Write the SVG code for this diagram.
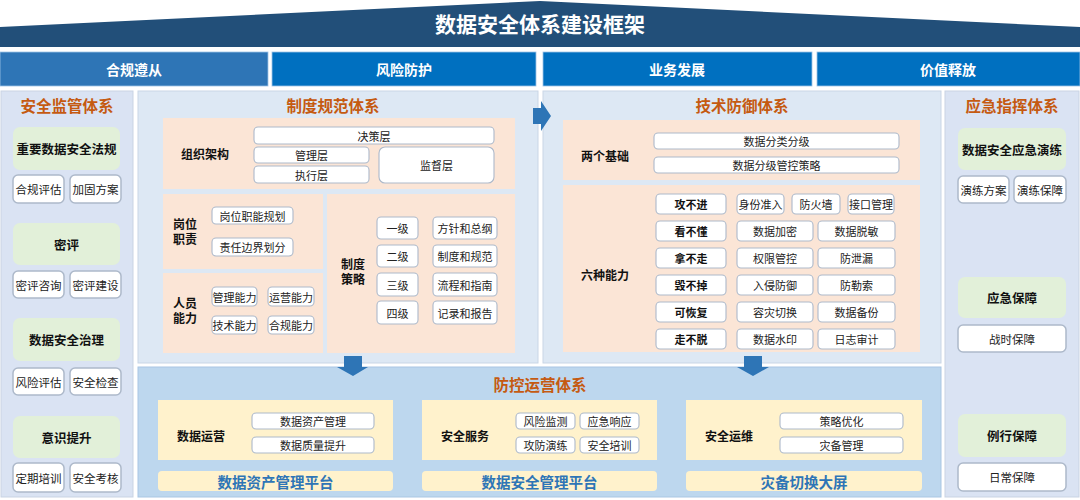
<svg xmlns="http://www.w3.org/2000/svg" width="1080" height="500" viewBox="0 0 1080 500">
<style>
text{font-family:"Noto Sans CJK SC","Noto Sans",sans-serif;text-anchor:middle;dominant-baseline:central}
.hd{fill:#fff;font-weight:700;font-size:14px}
.pt{fill:#c55a11;font-weight:700;font-size:15.5px}
.gb{fill:#e2f0d9}
.gl{font-weight:700;font-size:12.5px;fill:#111}
.wb{fill:#fff;stroke:#adb9ca;stroke-width:1.5}
.sb{fill:#fff;stroke:#adb9ca;stroke-width:1.1}
.t11{font-size:11px;fill:#222}
.t12{font-size:11.5px;fill:#222}
.bl{font-weight:700;font-size:12px;fill:#111}
.pe{fill:#fbe5d6}
.cr{fill:#fff2cc}
.pf{fill:#2e75b6;font-weight:700;font-size:14.5px}
.ar{fill:#2e75b6}
</style>
<g id="banner">
<polygon points="0,27 540,1 1080,27 1080,47 0,47" fill="#224f79"/>
<text x="540" y="23" style="fill:#fff;font-weight:700;font-size:21px">数据安全体系建设框架</text>
</g>
<g id="headers">
<rect x="0" y="52" width="268" height="34" fill="#2e75b6" stroke="#9dc3e6" stroke-width="0.8"/>
<text class="hd" x="134" y="69">合规遵从</text>
<rect x="272" y="52" width="264" height="34" fill="#0070c0" stroke="#9dc3e6" stroke-width="0.8"/>
<text class="hd" x="404" y="69">风险防护</text>
<rect x="543" y="52" width="269" height="34" fill="#0070c0" stroke="#9dc3e6" stroke-width="0.8"/>
<text class="hd" x="677" y="69">业务发展</text>
<rect x="817" y="52" width="263" height="34" fill="#0070c0" stroke="#9dc3e6" stroke-width="0.8"/>
<text class="hd" x="948" y="69">价值释放</text>
</g>
<g id="supervision">
<rect x="1" y="91" width="132" height="406" fill="#dae3f3" stroke="#c9d3e3" stroke-width="1"/>
<text class="pt" x="67" y="105">安全监管体系</text>
<rect class="gb" x="13" y="127" width="107" height="43" rx="7"/>
<text class="gl" x="66.5" y="148.5">重要数据安全法规</text>
<rect class="wb" x="13" y="175" width="51" height="28" rx="5"/><text class="t12" x="38.5" y="189">合规评估</text>
<rect class="wb" x="70" y="175" width="51" height="28" rx="5"/><text class="t12" x="95.5" y="189">加固方案</text>
<rect class="gb" x="13" y="223" width="107" height="42" rx="7"/>
<text class="gl" x="66.5" y="244">密评</text>
<rect class="wb" x="13" y="271" width="51" height="27" rx="5"/><text class="t12" x="38.5" y="284.5">密评咨询</text>
<rect class="wb" x="70" y="271" width="51" height="27" rx="5"/><text class="t12" x="95.5" y="284.5">密评建设</text>
<rect class="gb" x="13" y="318" width="107" height="43" rx="7"/>
<text class="gl" x="66.5" y="339.5">数据安全治理</text>
<rect class="wb" x="13" y="368" width="51" height="27" rx="5"/><text class="t12" x="38.5" y="381.5">风险评估</text>
<rect class="wb" x="70" y="368" width="51" height="27" rx="5"/><text class="t12" x="95.5" y="381.5">安全检查</text>
<rect class="gb" x="13" y="416" width="107" height="42" rx="7"/>
<text class="gl" x="66.5" y="437">意识提升</text>
<rect class="wb" x="13" y="463" width="51" height="29" rx="5"/><text class="t12" x="38.5" y="477.5">定期培训</text>
<rect class="wb" x="70" y="463" width="51" height="29" rx="5"/><text class="t12" x="95.5" y="477.5">安全考核</text>
</g>
<g id="policy">
<rect x="138" y="91" width="400" height="272" fill="#dde8f4" stroke="#c9d6e6" stroke-width="1"/>
<text class="pt" x="333" y="105">制度规范体系</text>
<rect class="pe" x="163" y="118" width="352" height="71"/>
<text class="bl" x="205" y="153">组织架构</text>
<rect class="sb" x="254" y="127" width="240" height="17" rx="4"/><text class="t11" x="374" y="135.5">决策层</text>
<rect class="sb" x="254" y="147" width="115" height="16" rx="4"/><text class="t11" x="311.5" y="155">管理层</text>
<rect class="sb" x="254" y="166" width="115" height="17" rx="4"/><text class="t11" x="311.5" y="174.5">执行层</text>
<rect class="sb" x="379" y="147" width="115" height="36" rx="6"/><text class="t11" x="436.5" y="165">监督层</text>
<rect class="pe" x="163" y="194" width="160" height="75"/>
<text class="bl" x="185" y="223">岗位</text><text class="bl" x="185" y="238">职责</text>
<rect class="sb" x="212" y="207" width="81" height="17" rx="4"/><text class="t11" x="252.5" y="215.5">岗位职能规划</text>
<rect class="sb" x="212" y="238" width="81" height="18" rx="4"/><text class="t11" x="252.5" y="247">责任边界划分</text>
<rect class="pe" x="163" y="273" width="160" height="80"/>
<text class="bl" x="185" y="302">人员</text><text class="bl" x="185" y="317">能力</text>
<rect class="sb" x="212" y="287" width="45" height="19" rx="4"/><text class="t11" x="234.5" y="296.5">管理能力</text>
<rect class="sb" x="268" y="287" width="46" height="19" rx="4"/><text class="t11" x="291" y="296.5">运营能力</text>
<rect class="sb" x="212" y="316" width="45" height="18" rx="4"/><text class="t11" x="234.5" y="325">技术能力</text>
<rect class="sb" x="268" y="316" width="46" height="18" rx="4"/><text class="t11" x="291" y="325">合规能力</text>
<rect class="pe" x="327" y="194" width="188" height="159"/>
<text class="bl" x="353" y="263">制度</text><text class="bl" x="353" y="278">策略</text>
<rect class="sb" x="377" y="217" width="41" height="22" rx="4"/><text class="t11" x="397.5" y="228">一级</text>
<rect class="sb" x="377" y="245" width="41" height="22" rx="4"/><text class="t11" x="397.5" y="256">二级</text>
<rect class="sb" x="377" y="273" width="41" height="23" rx="4"/><text class="t11" x="397.5" y="284.5">三级</text>
<rect class="sb" x="377" y="301" width="41" height="23" rx="4"/><text class="t11" x="397.5" y="312.5">四级</text>
<rect class="sb" x="433" y="217" width="64" height="22" rx="4"/><text class="t11" x="465" y="228">方针和总纲</text>
<rect class="sb" x="433" y="245" width="64" height="22" rx="4"/><text class="t11" x="465" y="256">制度和规范</text>
<rect class="sb" x="433" y="273" width="64" height="23" rx="4"/><text class="t11" x="465" y="284.5">流程和指南</text>
<rect class="sb" x="433" y="301" width="64" height="23" rx="4"/><text class="t11" x="465" y="312.5">记录和报告</text>
</g>
<g id="tech">
<rect x="543" y="91" width="398" height="272" fill="#dde8f4" stroke="#c9d6e6" stroke-width="1"/>
<text class="pt" x="742" y="105">技术防御体系</text>
<rect class="pe" x="563" y="120" width="357" height="60"/>
<text class="bl" x="605" y="155">两个基础</text>
<rect class="sb" x="654" y="133" width="245" height="16" rx="4"/><text class="t11" x="776.5" y="141">数据分类分级</text>
<rect class="sb" x="654" y="157" width="245" height="16" rx="4"/><text class="t11" x="776.5" y="165">数据分级管控策略</text>
<rect class="pe" x="563" y="185" width="357" height="167"/>
<text class="bl" x="605" y="274">六种能力</text>
<rect class="sb" x="656" y="194" width="70" height="20" rx="4"/><text class="bl" x="691" y="204" style="font-size:11px">攻不进</text>
<rect class="sb" x="737" y="194" width="47" height="20" rx="4"/><text class="t11" x="760.5" y="204">身份准入</text>
<rect class="sb" x="792" y="194" width="48" height="20" rx="4"/><text class="t11" x="816" y="204">防火墙</text>
<rect class="sb" x="848" y="194" width="46" height="20" rx="4"/><text class="t11" x="871" y="204">接口管理</text>
<rect class="sb" x="656" y="221" width="70" height="20" rx="4"/><text class="bl" x="691" y="231" style="font-size:11px">看不懂</text>
<rect class="sb" x="737" y="221" width="76" height="20" rx="4"/><text class="t11" x="775" y="231">数据加密</text>
<rect class="sb" x="818" y="221" width="77" height="20" rx="4"/><text class="t11" x="856.5" y="231">数据脱敏</text>
<rect class="sb" x="656" y="248" width="70" height="20" rx="4"/><text class="bl" x="691" y="258" style="font-size:11px">拿不走</text>
<rect class="sb" x="737" y="248" width="76" height="20" rx="4"/><text class="t11" x="775" y="258">权限管控</text>
<rect class="sb" x="818" y="248" width="77" height="20" rx="4"/><text class="t11" x="856.5" y="258">防泄漏</text>
<rect class="sb" x="656" y="275" width="70" height="20" rx="4"/><text class="bl" x="691" y="285" style="font-size:11px">毁不掉</text>
<rect class="sb" x="737" y="275" width="76" height="20" rx="4"/><text class="t11" x="775" y="285">入侵防御</text>
<rect class="sb" x="818" y="275" width="77" height="20" rx="4"/><text class="t11" x="856.5" y="285">防勒索</text>
<rect class="sb" x="656" y="302" width="70" height="20" rx="4"/><text class="bl" x="691" y="312" style="font-size:11px">可恢复</text>
<rect class="sb" x="737" y="302" width="76" height="20" rx="4"/><text class="t11" x="775" y="312">容灾切换</text>
<rect class="sb" x="818" y="302" width="77" height="20" rx="4"/><text class="t11" x="856.5" y="312">数据备份</text>
<rect class="sb" x="656" y="329" width="70" height="20" rx="4"/><text class="bl" x="691" y="339" style="font-size:11px">走不脱</text>
<rect class="sb" x="737" y="329" width="76" height="20" rx="4"/><text class="t11" x="775" y="339">数据水印</text>
<rect class="sb" x="818" y="329" width="77" height="20" rx="4"/><text class="t11" x="856.5" y="339">日志审计</text>
</g>
<g id="operations">
<rect x="138" y="367" width="803" height="130" fill="#bdd7ee" stroke="#a9c6e3" stroke-width="1"/>
<text class="pt" x="540" y="384">防控运营体系</text>
<rect class="cr" x="158" y="400" width="235" height="60"/>
<text class="bl" x="201" y="435">数据运营</text>
<rect class="sb" x="252" y="413" width="122" height="16" rx="4"/><text class="t11" x="313" y="421">数据资产管理</text>
<rect class="sb" x="252" y="437" width="122" height="16" rx="4"/><text class="t11" x="313" y="445">数据质量提升</text>
<rect class="cr" x="158" y="471" width="235" height="20" rx="4"/>
<text class="pf" x="275.5" y="481">数据资产管理平台</text>
<rect class="cr" x="422" y="400" width="235" height="60"/>
<text class="bl" x="465" y="435">安全服务</text>
<rect class="sb" x="516" y="413" width="59" height="16" rx="4"/><text class="t11" x="545.5" y="421">风险监测</text>
<rect class="sb" x="580" y="413" width="59" height="16" rx="4"/><text class="t11" x="609.5" y="421">应急响应</text>
<rect class="sb" x="516" y="437" width="59" height="16" rx="4"/><text class="t11" x="545.5" y="445">攻防演练</text>
<rect class="sb" x="580" y="437" width="59" height="16" rx="4"/><text class="t11" x="609.5" y="445">安全培训</text>
<rect class="cr" x="422" y="471" width="235" height="20" rx="4"/>
<text class="pf" x="539.5" y="481">数据安全管理平台</text>
<rect class="cr" x="686" y="400" width="236" height="60"/>
<text class="bl" x="729" y="435">安全运维</text>
<rect class="sb" x="780" y="413" width="123" height="16" rx="4"/><text class="t11" x="841.5" y="421">策略优化</text>
<rect class="sb" x="780" y="437" width="123" height="16" rx="4"/><text class="t11" x="841.5" y="445">灾备管理</text>
<rect class="cr" x="686" y="471" width="236" height="20" rx="4"/>
<text class="pf" x="804" y="481">灾备切换大屏</text>
</g>
<g id="command">
<rect x="945" y="91" width="134" height="406" fill="#dae3f3" stroke="#c9d3e3" stroke-width="1"/>
<text class="pt" x="1012" y="105">应急指挥体系</text>
<rect class="gb" x="958" y="128" width="108" height="42" rx="7"/>
<text class="gl" x="1012" y="149">数据安全应急演练</text>
<rect class="wb" x="958" y="176" width="51" height="27" rx="5"/><text class="t12" x="983.5" y="189.5">演练方案</text>
<rect class="wb" x="1014" y="176" width="52" height="27" rx="5"/><text class="t12" x="1040" y="189.5">演练保障</text>
<rect class="gb" x="958" y="277" width="108" height="41" rx="7"/>
<text class="gl" x="1012" y="297.5">应急保障</text>
<rect class="wb" x="958" y="325" width="108" height="27" rx="5"/><text class="t12" x="1012" y="338.5">战时保障</text>
<rect class="gb" x="958" y="414" width="108" height="43" rx="7"/>
<text class="gl" x="1012" y="435.5">例行保障</text>
<rect class="wb" x="958" y="463" width="108" height="28" rx="5"/><text class="t12" x="1012" y="477">日常保障</text>
</g>
<g id="connectors">
<polygon class="ar" points="533,108 541,108 541,101 551,116 541,131 541,124 533,124"/>
<polygon class="ar" points="344,356 362,356 362,367 368,367 353,376 337,367 344,367"/>
<polygon class="ar" points="744,356 762,356 762,367 769,367 753,376 737,367 744,367"/>
</g>
</svg>
